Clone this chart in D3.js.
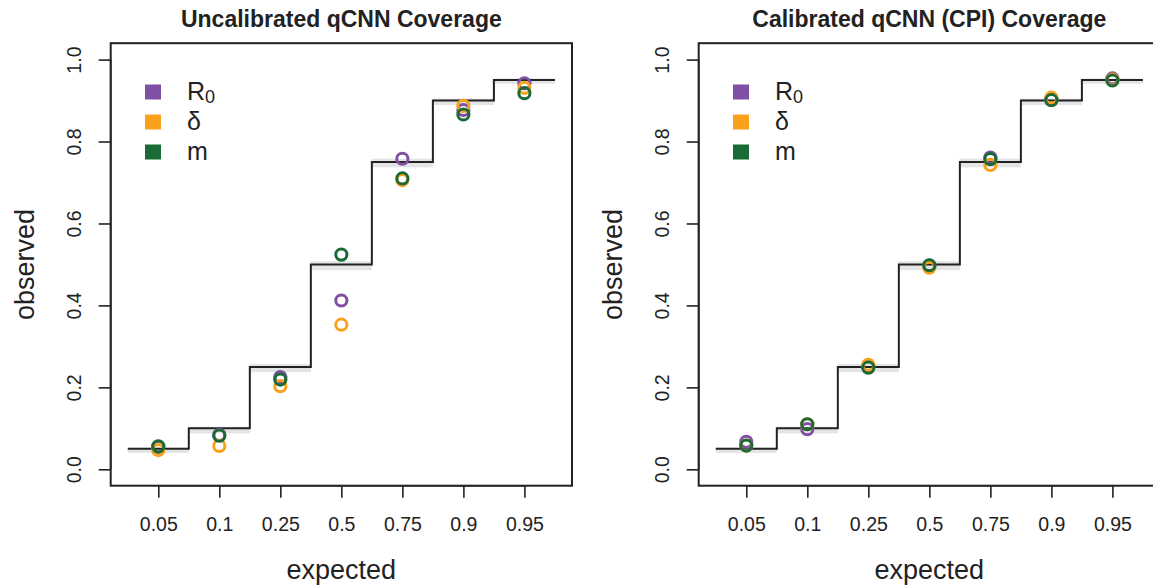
<!DOCTYPE html>
<html>
<head>
<meta charset="utf-8">
<script src="https://cdn.jsdelivr.net/npm/d3@7"></script>
<style>
  html, body { margin: 0; padding: 0; background: #fff; }
  svg { display: block; font-family: "Liberation Sans", Arial, Helvetica, sans-serif; }
</style>
</head>
<body>
<svg id="chart" width="1153" height="587"></svg>
<script>
// ---- data ----
const levels = ["0.05", "0.1", "0.25", "0.5", "0.75", "0.9", "0.95"];
const expected = [0.05, 0.1, 0.25, 0.5, 0.75, 0.9, 0.95];
const bandLow = [0.040, 0.088, 0.237, 0.486, 0.737, 0.889, 0.941];
const bandHigh = [0.053, 0.104, 0.257, 0.508, 0.758, 0.905, 0.954];

const uncalR0 = [0.055, 0.084, 0.225, 0.412, 0.758, 0.877, 0.942];
const uncalDelta = [0.047, 0.057, 0.203, 0.353, 0.706, 0.887, 0.931];
const uncalM = [0.056, 0.082, 0.219, 0.524, 0.710, 0.866, 0.918];

const calR0 = [0.067, 0.098, 0.250, 0.497, 0.761, 0.903, 0.954];
const calDelta = [0.058, 0.110, 0.255, 0.492, 0.743, 0.907, 0.951];
const calM = [0.058, 0.110, 0.248, 0.498, 0.757, 0.901, 0.949];

const yTicks = [0, 0.2, 0.4, 0.6, 0.8, 1.0];
const seriesNames = ["R0", "δ", "m"];
const seriesColors = ["#8150A3", "#F9A11B", "#1B6A36"];

const panels = [
  { title: "Uncalibrated qCNN Coverage", series: [uncalR0, uncalDelta, uncalM], offset: 0 },
  { title: "Calibrated qCNN (CPI) Coverage", series: [calR0, calDelta, calM], offset: 588 }
];

const svg = d3.select("#chart");
const FONT_TICK = 19.5, FONT_LAB = 27, FONT_LEG = 25, FONT_TITLE = 23;
const FF = "Liberation Sans, Arial, sans-serif";

panels.forEach(p => {
  const left = 110.7 + p.offset, right = 572 + p.offset;
  const top = 43.2, bottom = 485.7;
  const x = d3.scaleLinear().domain([0.22, 7.78]).range([left, right]);
  const y = d3.scaleLinear().domain([-0.04, 1.04]).range([bottom, top]);
  const g = svg.append("g");

  // gray bands
  g.selectAll("rect.band").data(expected).enter().append("rect")
    .attr("x", (d, i) => x(i + 0.5))
    .attr("width", (d, i) => x(i + 1.5) - x(i + 0.5))
    .attr("y", (d, i) => y(bandHigh[i]))
    .attr("height", (d, i) => y(bandLow[i]) - y(bandHigh[i]))
    .attr("fill", "#e3e4e6");

  // step line
  const stepPts = expected.map((v, i) => [i + 0.5, v]);
  stepPts.push([7.5, expected[expected.length - 1]]);
  g.append("path")
    .attr("d", d3.line().x(d => x(d[0])).y(d => y(d[1])).curve(d3.curveStepAfter)(stepPts))
    .attr("fill", "none").attr("stroke", "#222").attr("stroke-width", 2);

  // points
  p.series.forEach((s, k) => {
    g.selectAll("circle.s" + k).data(s).enter().append("circle")
      .attr("cx", (d, i) => x(i + 1))
      .attr("cy", d => y(d))
      .attr("r", 5.6)
      .attr("fill", "none")
      .attr("stroke", seriesColors[k])
      .attr("stroke-width", 3);
  });

  // box
  g.append("rect").attr("x", left).attr("y", top)
    .attr("width", right - left).attr("height", bottom - top)
    .attr("fill", "none").attr("stroke", "#222").attr("stroke-width", 2);

  // y axis
  const yAxis = d3.axisLeft(y).tickValues(yTicks).tickSize(12).tickFormat(d3.format(".1f"));
  const ya = g.append("g").attr("transform", `translate(${left},0)`).call(yAxis);
  ya.attr("font-size", null).attr("font-family", null);
  ya.select(".domain").attr("d", `M0,${y(0)}V${y(1)}`).attr("stroke", "#222").attr("stroke-width", 1.6);
  ya.selectAll(".tick line").attr("stroke", "#222").attr("stroke-width", 1.6);
  ya.selectAll(".tick text").remove();
  ya.selectAll(".tick").append("text")
    .attr("transform", "translate(-30,0) rotate(-90)")
    .attr("text-anchor", "middle").attr("dy", "0em")
    .attr("fill", "#222").style("font-size", FONT_TICK + "px")
    .style("font-family", FF)
    .text(d => d3.format(".1f")(d));

  // x axis
  const xAxis = d3.axisBottom(x).tickValues(d3.range(1, 8)).tickSize(12).tickFormat((d, i) => levels[i]);
  const xa = g.append("g").attr("transform", `translate(0,${bottom})`).call(xAxis);
  xa.attr("font-size", null).attr("font-family", null);
  xa.select(".domain").attr("d", `M${x(1)},0H${x(7)}`).attr("stroke", "#222").attr("stroke-width", 1.6);
  xa.selectAll(".tick line").attr("stroke", "#222").attr("stroke-width", 1.6);
  xa.selectAll(".tick text").attr("y", 0).attr("dy", 0)
    .attr("transform", "translate(0,45)")
    .attr("fill", "#222").style("font-size", FONT_TICK + "px")
    .style("font-family", FF);

  // axis titles
  g.append("text").attr("x", (left + right) / 2).attr("y", 579)
    .attr("text-anchor", "middle").style("font-size", FONT_LAB + "px").attr("fill", "#222")
    .text("expected");
  g.append("text")
    .attr("transform", `translate(${34 + p.offset},${(top + bottom) / 2}) rotate(-90)`)
    .attr("text-anchor", "middle").style("font-size", FONT_LAB + "px").attr("fill", "#222")
    .text("observed");

  // title
  g.append("text").attr("x", (left + right) / 2).attr("y", 27)
    .attr("text-anchor", "middle").style("font-size", FONT_TITLE + "px").attr("font-weight", "bold")
    .attr("fill", "#222").text(p.title);

  // legend
  const lg = g.append("g");
  seriesNames.forEach((name, k) => {
    const cy = 92 + k * 30;
    lg.append("rect").attr("x", 145 + p.offset).attr("y", cy - 7.5)
      .attr("width", 16).attr("height", 15).attr("fill", seriesColors[k]);
    const t = lg.append("text").attr("x", 187 + p.offset).attr("y", cy + 8)
      .style("font-size", FONT_LEG + "px").attr("fill", "#222");
    if (name === "R0") {
      t.append("tspan").text("R");
      t.append("tspan").style("font-size", "18px").attr("dy", 3).text("0");
    } else {
      t.text(name);
    }
  });
});
</script>
</body>
</html>
